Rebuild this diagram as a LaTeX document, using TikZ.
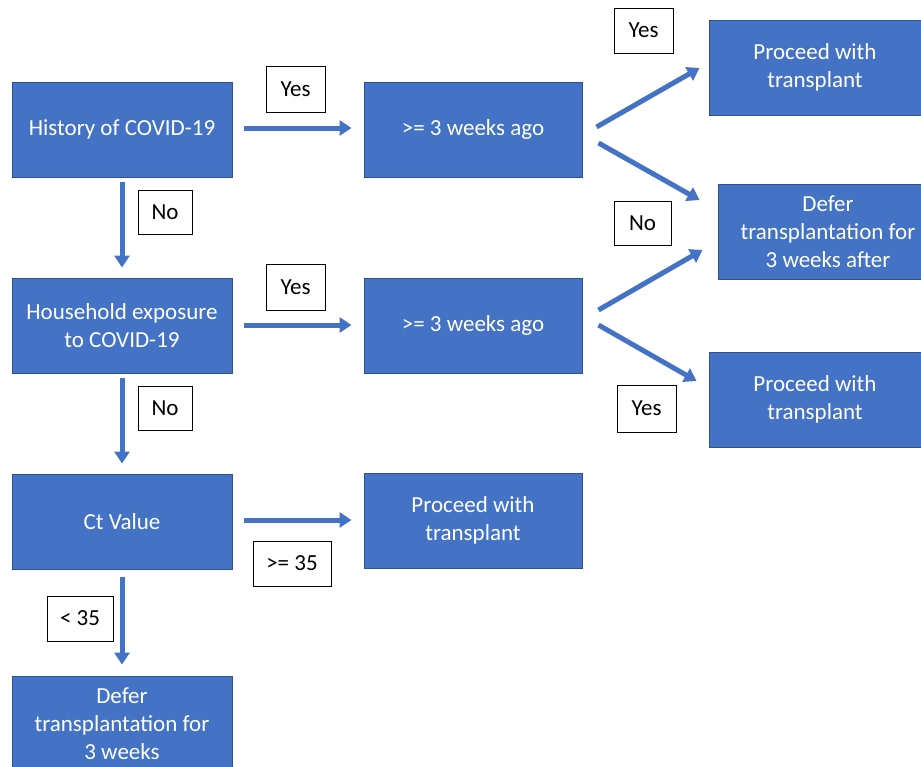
\documentclass[tikz,border=0pt]{standalone}
\usepackage{fontspec}
\setmainfont{Carlito}
\usetikzlibrary{arrows.meta}
\definecolor{boxblue}{HTML}{4472C4}
\definecolor{boxedge}{HTML}{2F528F}
\begin{document}
\begin{tikzpicture}[x=1pt,y=-1pt,
  stage/.style={draw=boxedge,line width=1pt,fill=boxblue,text=white,align=center,minimum width=220pt,minimum height=95pt,inner sep=2pt,font=\fontsize{23}{28}\selectfont},
  answer/.style={draw=black,line width=1pt,fill=white,minimum width=59pt,minimum height=46pt,inner sep=2pt,font=\fontsize{23}{28}\selectfont},
  flow/.style={draw=boxblue,line width=5pt,-{Triangle[length=12pt,width=15pt]}}]
\useasboundingbox (0,0) rectangle (921,766);
\node (hist) at (122,129.5) [stage] {History of COVID-19};
\node (wk1) at (473,129.5) [stage,minimum width=218pt] {>= 3 weeks ago};
\node (pro1) at (815,67.5) [stage,minimum width=212pt] {Proceed with\\transplant};
\node (defer1) at (828,231.5) [stage] {Defer\\transplantation for\\3 weeks after};
\node (hh) at (122,325.5) [stage] {Household exposure\\to COVID-19};
\node (wk2) at (473,325.5) [stage,minimum width=218pt] {>= 3 weeks ago};
\node (pro2) at (815,399.5) [stage,minimum width=212pt] {Proceed with\\transplant};
\node (ct) at (122,521.5) [stage] {Ct Value};
\node (pro3) at (473,520.5) [stage,minimum width=218pt] {Proceed with\\transplant};
\node (defer2) at (122,724) [stage] {Defer\\transplantation for\\3 weeks};
\node (yes1) at (295.5,89) [answer] {Yes};
\node (no1) at (165,212) [answer,minimum width=54pt,minimum height=44pt] {No};
\node (yes2) at (295.5,287) [answer] {Yes};
\node (no2) at (165,408) [answer,minimum width=54pt,minimum height=44pt] {No};
\node (ge35) at (292,563.5) [answer,minimum width=78pt,minimum height=45pt] {>= 35};
\node (lt35) at (80,618.5) [answer,minimum width=66pt,minimum height=45pt] {< 35};
\node (yes3) at (643.5,30.5) [answer,minimum height=45pt] {Yes};
\node (no3) at (642.5,223) [answer,minimum width=57pt,minimum height=44pt] {No};
\node (yes4) at (646.5,408.5) [answer,minimum height=47pt] {Yes};
\draw [flow] ([shift={(11,-1.5)}]hist.east) -- ([shift={(-12,-1.5)}]wk1.west);
\draw [flow] ([shift={(0,4)}]hist.south) -- ([shift={(0,-10)}]hh.north);
\draw [flow] ([shift={(11,-0.5)}]hh.east) -- ([shift={(-12,-0.5)}]wk2.west);
\draw [flow] ([shift={(0,4)}]hh.south) -- ([shift={(0,-10)}]ct.north);
\draw [flow] ([shift={(11,-1.5)}]ct.east) -- ([shift={(-12,-0.5)}]pro3.west);
\draw [flow] ([shift={(0,7)}]ct.south) -- ([shift={(0,-11.5)}]defer2.north);
\draw [flow] ([shift={(14,-2.5)}]wk1.east) -- ([shift={(-9,0.5)}]pro1.west);
\draw [flow] ([shift={(16,13.5)}]wk1.east) -- ([shift={(-18,-31.5)}]defer1.west);
\draw [flow] ([shift={(16,-15.5)}]wk2.east) -- ([shift={(-15,18.5)}]defer1.west);
\draw [flow] ([shift={(16,-0.5)}]wk2.east) -- ([shift={(-12,-18.5)}]pro2.west);
\end{tikzpicture}
\end{document}
